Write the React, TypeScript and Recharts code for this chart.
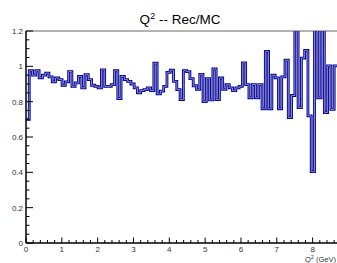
import React from "react";
import { LineChart, Line, XAxis, YAxis, ReferenceLine } from "recharts";

// Rec/MC ratio per Q^2 bin (first bin starts at 0)
const RATIO = [
  0.7, 0.975, 0.95, 0.975, 0.935, 0.95, 0.962, 0.94, 0.912, 0.934,
  0.925, 0.893, 0.912, 0.97, 0.887, 0.906, 0.943, 0.878, 0.953, 0.925,
  0.893, 0.887, 0.878, 0.98, 0.887, 0.887, 0.896, 0.975, 0.818, 0.943,
  0.925, 0.915, 0.9, 0.878, 0.85, 0.863, 0.868, 0.878, 0.863, 1.018,
  0.844, 0.86, 0.887, 0.966, 0.978, 0.915, 0.868, 0.812, 0.975, 0.97,
  0.93, 0.89, 0.87, 0.955, 0.8, 0.93, 0.81, 0.985, 0.812, 0.934,
  0.87, 0.896, 0.878, 0.862, 0.878, 0.887, 1.02, 0.897, 0.822, 0.897,
  0.822, 0.897, 0.76, 1.085, 0.76, 0.95, 0.935, 0.76, 0.94, 1.035,
  0.71, 0.835, 1.25, 0.766, 1.047, 1.09, 0.72, 0.404, 1.25, 0.822,
  1.25, 0.738, 1.003, 0.756, 1.003,
];
const BIN_WIDTH = 0.0915;
const X_MAX = 8.68;
const X_LABELS = [0, 1, 2, 3, 4, 5, 6, 7, 8];
const Y_LABELS = [0, 0.2, 0.4, 0.6, 0.8, 1, 1.2];

const FONT = "'Liberation Sans', Arial, Helvetica, sans-serif";

const data = RATIO.map((r, i) => ({ q2: i * BIN_WIDTH, ratio: r }));
data.push({ q2: RATIO.length * BIN_WIDTH, ratio: RATIO[RATIO.length - 1] });

const xTicks: number[] = [];
for (let k = 0; k * 0.2 <= X_MAX; k++) xTicks.push(Number((k * 0.2).toFixed(2)));
const yTicks: number[] = [];
for (let k = 0; k <= 24; k++) yTicks.push(Number((k * 0.05).toFixed(2)));

const isMajor = (v: number, labels: number[]) =>
  labels.some((l) => Math.abs(l - v) < 1e-6);

function YTick(props: any) {
  const { x, y, payload } = props;
  const v = payload.value;
  const major = isMajor(v, Y_LABELS);
  return (
    <g>
      <line x1={x} x2={x + (major ? 7 : 3.5)} y1={y} y2={y} stroke="#000" strokeWidth={1} />
      {major && (
        <text x={x - 3} y={y + 3} textAnchor="end" fontSize={8} fontFamily={FONT} fill="#333" stroke="none">
          {v === 0 || v === 1 ? String(v) : v.toFixed(1)}
        </text>
      )}
    </g>
  );
}

function XTick(props: any) {
  const { x, y, payload } = props;
  const v = payload.value;
  const major = isMajor(v, X_LABELS);
  return (
    <g>
      <line x1={x} x2={x} y1={y} y2={y - (major ? 5.5 : 3)} stroke="#000" strokeWidth={1} />
      {major && (
        <text x={x} y={y + 9} textAnchor="middle" fontSize={8} fontFamily={FONT} fill="#333" stroke="none">
          {v}
        </text>
      )}
    </g>
  );
}

export default function App() {
  return (
    <div style={{ position: "fixed", left: 0, top: 0, width: 337, height: 263, background: "#fff", overflow: "hidden" }}>
      <LineChart width={337} height={263} data={data} margin={{ top: 31, right: 0, left: 0, bottom: 0 }}>
        <XAxis
          dataKey="q2"
          type="number"
          domain={[0, X_MAX]}
          allowDataOverflow
          ticks={xTicks}
          interval={0}
          tick={<XTick />}
          tickLine={false}
          tickSize={0}
          tickMargin={0}
          height={20}
          axisLine={{ stroke: "#000", strokeWidth: 1.5 }}
        />
        <YAxis
          type="number"
          domain={[0, 1.2]}
          allowDataOverflow
          ticks={yTicks}
          interval={0}
          tick={<YTick />}
          tickLine={false}
          tickSize={0}
          tickMargin={0}
          width={26}
          axisLine={{ stroke: "#000", strokeWidth: 1.5 }}
        />
        <ReferenceLine y={1.2} stroke="#666" strokeWidth={1} />
        <Line
          dataKey="ratio"
          type="stepAfter"
          stroke="#000090"
          strokeWidth={2.8}
          dot={false}
          isAnimationActive={false}
        />
        <Line
          dataKey="ratio"
          type="stepAfter"
          stroke="#9a9ae4"
          strokeWidth={0.9}
          dot={false}
          isAnimationActive={false}
        />
      </LineChart>
      <svg width={337} height={263} style={{ position: "absolute", left: 0, top: 0, pointerEvents: "none" }}>
        <text x={180} y={24} textAnchor="middle" fontSize={13.5} fontFamily={FONT} fill="#000">
          Q<tspan dy={-5} fontSize={9}>2</tspan>
          <tspan dy={5}> -- Rec/MC</tspan>
        </text>
        <text x={336} y={262} textAnchor="end" fontSize={7.5} fontFamily={FONT} fill="#333">
          Q<tspan dy={-3} fontSize={5.5}>2</tspan>
          <tspan dy={3}> (GeV)</tspan>
        </text>
      </svg>
    </div>
  );
}
